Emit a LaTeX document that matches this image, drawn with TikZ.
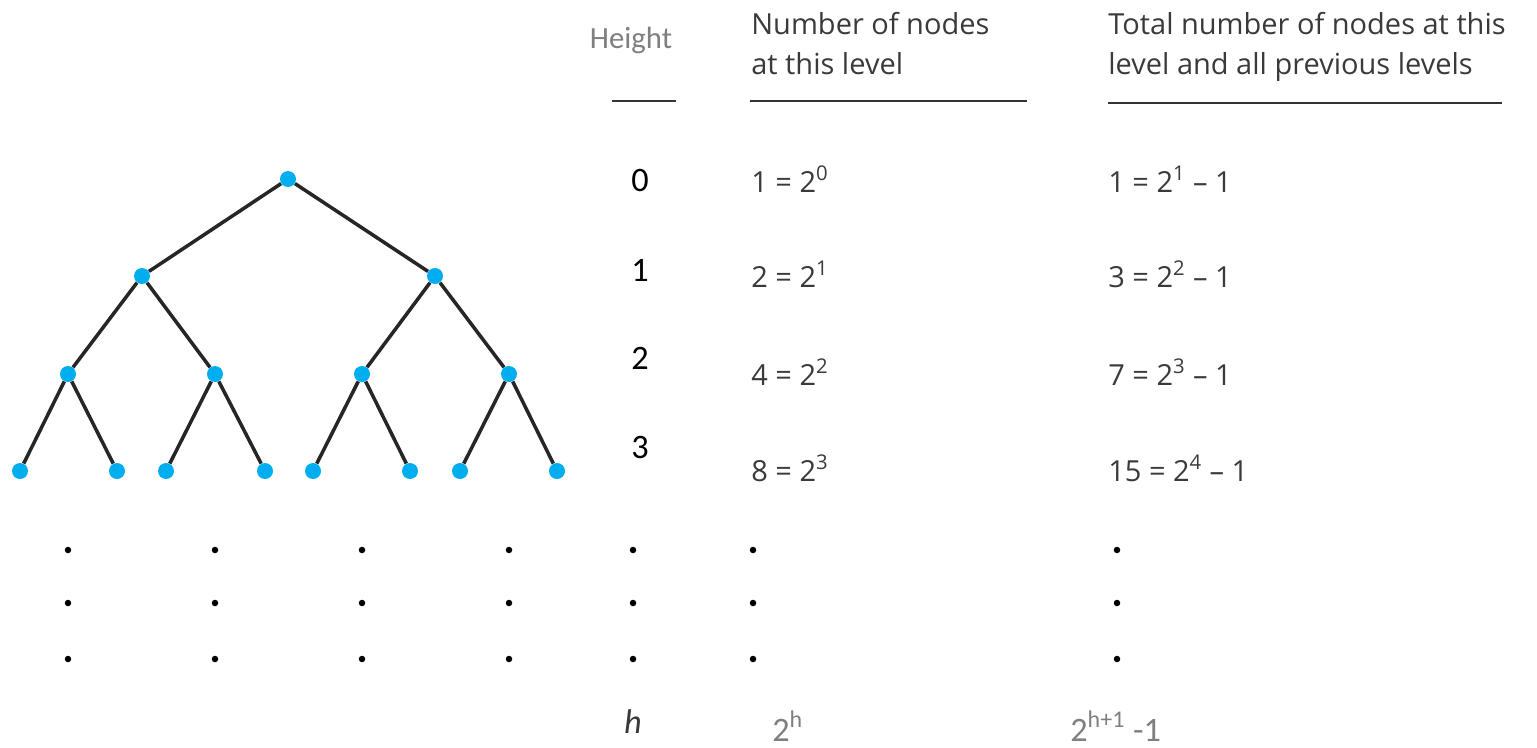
\documentclass[tikz,border=0pt]{standalone}
\usepackage{fontspec}
\setmainfont{Open Sans}
\newfontfamily\calibri{Carlito}
\usetikzlibrary{positioning}
\definecolor{nodeblue}{HTML}{00AEEF}
\definecolor{textgrey}{HTML}{3A3A3A}
\definecolor{lightgrey}{HTML}{7F7F7F}

\begin{document}
\begin{tikzpicture}[
        x=0.02cm, y=-0.02cm,
        vertex/.style={circle, fill=nodeblue, inner sep=0pt, minimum size=16*0.02cm},
        edge/.style={line width=2pt, draw=black!85},
        dotmark/.style={circle, fill=black, inner sep=0pt, minimum size=6.5*0.02cm},
        head/.style={anchor=base west, inner sep=0pt, text=textgrey, font=\fontsize{16.5}{20}\selectfont},
        eqn/.style={anchor=base west, inner sep=0pt, text=textgrey, font=\fontsize{16.5}{20}\selectfont},
        lvl/.style={anchor=base, inner sep=0pt, font=\calibri\fontsize{19.5}{22}\selectfont},
        rule/.style={line width=0.8pt, draw=black!80}
    ]
        \useasboundingbox (0,0) rectangle (1537,747);

        % tree
        \node[vertex] (r) at (288,179) {};
        \node[vertex] (a) at (142,276) {};
        \node[vertex] (b) at (435,276) {};
        \node[vertex] (aa) at (68,374) {};
        \node[vertex] (ab) at (215,374) {};
        \node[vertex] (ba) at (362,374) {};
        \node[vertex] (bb) at (509,374) {};
        \node[vertex] (aaa) at (20,471) {};
        \node[vertex] (aab) at (117,471) {};
        \node[vertex] (aba) at (166,471) {};
        \node[vertex] (abb) at (265,471) {};
        \node[vertex] (baa) at (313,471) {};
        \node[vertex] (bab) at (410,471) {};
        \node[vertex] (bba) at (460,471) {};
        \node[vertex] (bbb) at (557,471) {};
        \draw[edge] (r) -- (a);
        \draw[edge] (r) -- (b);
        \draw[edge] (a) -- (aa);
        \draw[edge] (a) -- (ab);
        \draw[edge] (b) -- (ba);
        \draw[edge] (b) -- (bb);
        \draw[edge] (aa) -- (aaa);
        \draw[edge] (aa) -- (aab);
        \draw[edge] (ab) -- (aba);
        \draw[edge] (ab) -- (abb);
        \draw[edge] (ba) -- (baa);
        \draw[edge] (ba) -- (bab);
        \draw[edge] (bb) -- (bba);
        \draw[edge] (bb) -- (bbb);

        % dots
        \foreach \x [count=\i] in {68,215,362,509,633,753,1117}
            \foreach \y [count=\j] in {550,603,659}
                \node[dotmark] (d\i\j) at (\x,\y) {};

        % headers
        \node[anchor=base, inner sep=0pt, text=lightgrey, font=\calibri\fontsize{17.5}{20}\selectfont] (hh) at (631,48) {Height};
        \node[head] (nh1) at (751,34) {Number of nodes};
        \node[head] (nh2) at (751,74) {at this level};
        \node[head] (th1) at (1108,34) {Total number of nodes at this};
        \node[head] (th2) at (1108,74) {level and all previous levels};
        \draw[rule] (612,101) -- (676,101);
        \draw[rule] (750,101) -- (1027,101);
        \draw[rule] (1108,103) -- (1502,103);

        % rows
        \node[lvl] (l0) at (640,191) {0};
        \node[lvl] (l1) at (640,281) {1};
        \node[lvl] (l2) at (640,369) {2};
        \node[lvl] (l3) at (640,458) {3};
        \node[eqn] (n0) at (751,192) {1 = 2\textsuperscript{0}};
        \node[eqn] (n1) at (751,287) {2 = 2\textsuperscript{1}};
        \node[eqn] (n2) at (751,385) {4 = 2\textsuperscript{2}};
        \node[eqn] (n3) at (751,481) {8 = 2\textsuperscript{3}};
        \node[eqn] (t0) at (1108,192) {1 = 2\textsuperscript{1} – 1};
        \node[eqn] (t1) at (1108,287) {3 = 2\textsuperscript{2} – 1};
        \node[eqn] (t2) at (1108,385) {7 = 2\textsuperscript{3} – 1};
        \node[eqn] (t3) at (1108,481) {15 = 2\textsuperscript{4} – 1};

        % last row
        \node[lvl, text=textgrey] (lh) at (633,733) {\itshape h};
        \node[lvl, anchor=base west, text=lightgrey] (nh) at (772,741) {2\textsuperscript{h}};
        \node[lvl, anchor=base west, text=lightgrey] (th) at (1070,741) {2\textsuperscript{h+1} -1};
    \end{tikzpicture}
\end{document}
